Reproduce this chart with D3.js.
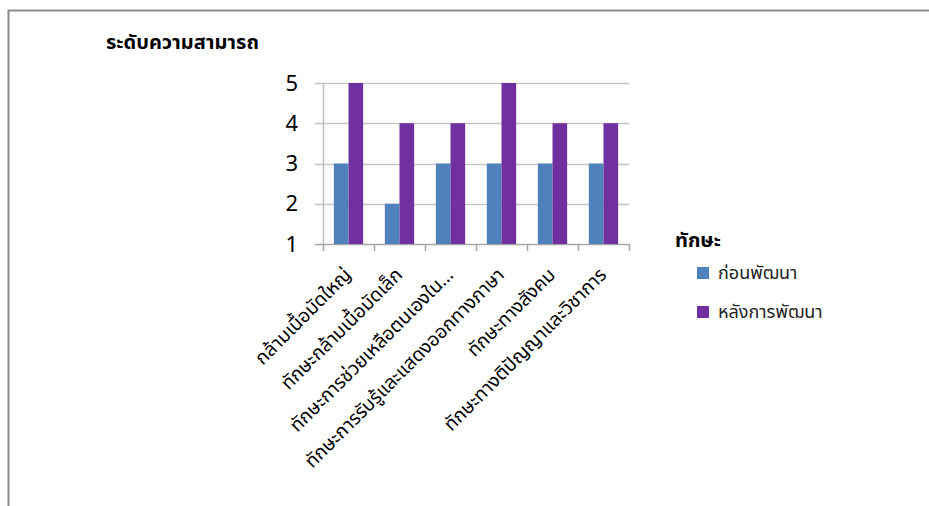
<!DOCTYPE html>
<html>
<head>
<meta charset="utf-8">
<script src="https://cdn.jsdelivr.net/npm/d3@7"></script>
<style>
  html, body { margin: 0; padding: 0; background: #fff; }
  svg { display: block; }
  text { font-family: Tahoma, "Noto Sans Thai", "Noto Sans", "DejaVu Sans", sans-serif; }
</style>
</head>
<body>
<svg id="chart" width="929" height="506"></svg>
<script>
// Skill categories (x axis)
const categories = [
  "กล้ามเนื้อมัดใหญ่",
  "ทักษะกล้ามเนื้อมัดเล็ก",
  "ทักษะการช่วยเหลือตนเองใน…",
  "ทักษะการรับรู้และแสดงออกทางภาษา",
  "ทักษะทางสังคม",
  "ทักษะทางติปัญญาและวิชาการ"
];
// Series names and values
const seriesNames = ["ก่อนพัฒนา", "หลังการพัฒนา"];
const before = [3, 2, 3, 3, 3, 3];
const after = [5, 4, 4, 5, 4, 4];
const yTicks = [1, 2, 3, 4, 5];
const colors = ["#4f81bd", "#7030a0"];

const svg = d3.select("#chart");

// Outer frame (top and left edges visible)
svg.append("path")
  .attr("d", "M8.5,506 L8.5,10.5 L929,10.5")
  .attr("fill", "none")
  .attr("stroke", "#8c8c8c")
  .attr("stroke-width", 2);

// Chart title
svg.append("text")
  .attr("x", 106).attr("y", 49)
  .attr("font-size", 20).attr("font-weight", "bold")
  .attr("fill", "#000")
  .text("ระดับความสามารถ");

const x0 = d3.scaleBand().domain(categories).range([323, 629]).paddingInner(0).paddingOuter(0);
const y = d3.scaleLinear().domain([1, 5]).range([244, 83]);
const x1 = d3.scaleBand().domain(seriesNames).range([0, x0.bandwidth()]).paddingOuter(0.74).paddingInner(0);

// Horizontal gridlines
svg.append("g")
  .selectAll("line").data(yTicks).join("line")
  .attr("x1", 315).attr("x2", 629)
  .attr("y1", d => Math.round(y(d)) + 0.5).attr("y2", d => Math.round(y(d)) + 0.5)
  .attr("stroke", d => d === 1 ? "#a6a6a6" : "#c6c6c6")
  .attr("stroke-width", 1.5);

// Y axis line
svg.append("line")
  .attr("x1", 323.5).attr("x2", 323.5).attr("y1", 83).attr("y2", 244)
  .attr("stroke", "#c0c0c0").attr("stroke-width", 1.5);

// Y tick labels
svg.append("g")
  .selectAll("text").data(yTicks).join("text")
  .attr("x", 298).attr("y", d => y(d))
  .attr("dy", "0.35em")
  .attr("text-anchor", "end")
  .attr("font-size", 22)
  .attr("font-family", "Carlito, Lato, 'Open Sans', sans-serif")
  .attr("fill", "#000")
  .text(d => d);

// X axis tick marks at band boundaries
const boundaries = categories.map(c => x0(c)).concat([x0.range()[1]]);
svg.append("g")
  .selectAll("line").data(boundaries).join("line")
  .attr("x1", d => Math.round(d) + 0.5).attr("x2", d => Math.round(d) + 0.5)
  .attr("y1", 244).attr("y2", 251)
  .attr("stroke", "#a6a6a6").attr("stroke-width", 1.5);

// Bars
const groups = svg.append("g")
  .selectAll("g").data(categories).join("g")
  .attr("transform", d => `translate(${x0(d)},0)`);

groups.selectAll("rect")
  .data((d, i) => [
    { s: seriesNames[0], v: before[i], c: colors[0] },
    { s: seriesNames[1], v: after[i], c: colors[1] }
  ])
  .join("rect")
  .attr("x", d => x1(d.s))
  .attr("width", x1.bandwidth())
  .attr("y", d => y(d.v))
  .attr("height", d => y(1) - y(d.v))
  .attr("fill", d => d.c);

// Rotated category labels
svg.append("g")
  .selectAll("text").data(categories).join("text")
  .attr("transform", d => `translate(${x0(d) + x0.bandwidth() / 2 + 4},${276}) rotate(-45)`)
  .attr("text-anchor", "end")
  .attr("font-size", 19)
  .attr("fill", "#000")
  .text(d => d);

// Legend
const legend = svg.append("g");
legend.append("text")
  .attr("x", 675).attr("y", 247)
  .attr("font-size", 20).attr("font-weight", "bold")
  .attr("fill", "#000")
  .text("ทักษะ");

const items = legend.selectAll("g").data(seriesNames).join("g")
  .attr("transform", (d, i) => `translate(697,${267 + i * 39})`);
items.append("rect")
  .attr("width", 12).attr("height", 12)
  .attr("fill", (d, i) => colors[i]);
items.append("text")
  .attr("x", 21).attr("y", 12)
  .attr("font-size", 18)
  .attr("fill", "#222")
  .text(d => d);
</script>
</body>
</html>
